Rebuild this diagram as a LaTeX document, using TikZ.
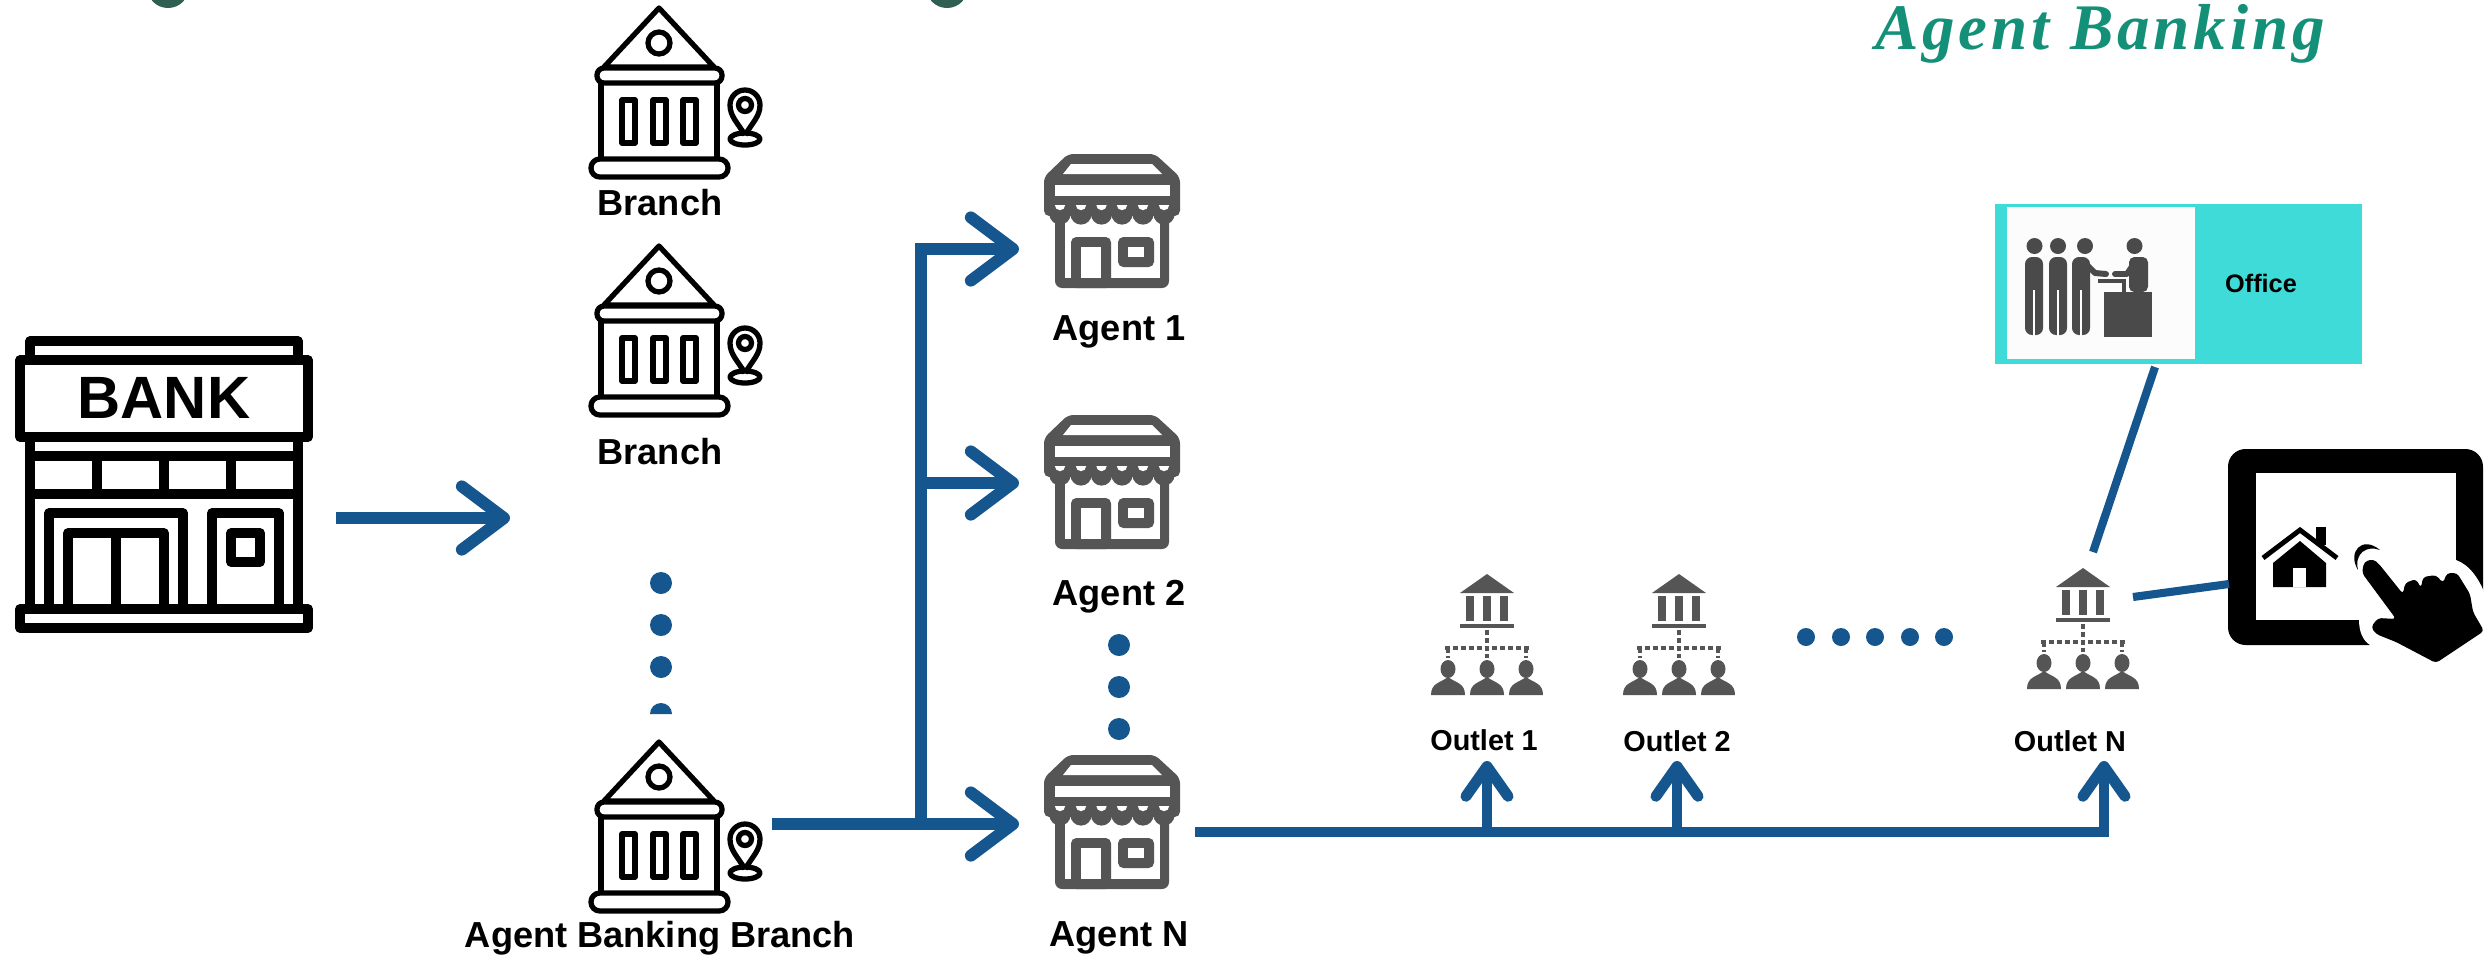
\documentclass[tikz,border=0pt]{standalone}
\usepackage{fontspec}
\setmainfont{Liberation Sans}
\newfontfamily\logofont[LetterSpace=6]{Liberation Serif}
\usetikzlibrary{arrows.meta}

\definecolor{flowblue}{HTML}{15568E}
\definecolor{icongray}{HTML}{555555}
\definecolor{peoplegray}{HTML}{4A4A4A}
\definecolor{officeteal}{HTML}{3FDBD8}
\definecolor{logogreen}{HTML}{149078}
\definecolor{stubgreen}{HTML}{2F5F52}

\tikzset{
  flow/.style={draw=flowblue, line width=6.8pt, -{Straight Barb[length=24pt, width=36pt, round]}},
  smallflow/.style={draw=flowblue, line width=6.2pt, -{Straight Barb[length=17pt, width=24pt, round]}},
  trunk/.style={draw=flowblue, line width=6.8pt},
  linkline/.style={draw=flowblue, line width=4.6pt},
  bigtext/.style={font=\bfseries\fontsize{20.6}{24}\selectfont, inner sep=0pt},
  outlettext/.style={font=\bfseries\fontsize{16.4}{20}\selectfont, inner sep=0pt},
  officetext/.style={font=\bfseries\fontsize{14.4}{18}\selectfont, inner sep=0pt},
  dotmark/.style={circle, fill=flowblue, inner sep=0pt, minimum size=0.44cm},
  smalldot/.style={circle, fill=flowblue, inner sep=0pt, minimum size=0.36cm},
  bankline/.style={draw=black, line width=5.4pt, line join=round},
  branchline/.style={draw=black, line width=3pt, line join=round},
  branchicon/.pic={
    \draw[branchline] (0,8) -- (-55,67) -- (55,67) -- cycle;
    \draw[branchline] (0,43) circle[radius=11];
    \draw[branchline, rounded corners=4pt] (-62,68) rectangle (63,83);
    \draw[branchline] (-58,83) -- (-58,159) (58,83) -- (58,159);
    \draw[branchline, rounded corners=5pt] (-68,159) rectangle (69,177);
    \foreach \wx in {-37,-6,24}
      \draw[branchline] (\wx,100) rectangle (\wx+13,143);
    \draw[branchline] (86,135) .. controls (78,122) and (71,116) .. (71,105)
      arc[start angle=180, end angle=360, radius=15]
      .. controls (101,116) and (94,122) .. (86,135);
    \draw[branchline] (86,105) circle[radius=6.5];
    \draw[branchline] (86,139) ellipse[x radius=15, y radius=6];
  },
  shopicon/.pic={
    \fill[icongray, rounded corners=4pt] (-57,55) rectangle (57,134);
    \fill[white] (-47,55) rectangle (48,124);
    \fill[icongray, rounded corners=3pt] (-44,0) -- (43,0) -- (68,23) -- (68,62) -- (-68,62) -- (-68,23) -- cycle;
    \foreach \sx in {-52,-31,-10.5,10,31,52} {
      \fill[icongray] (\sx,60) circle[radius=10.6];
      \fill[white] (\sx-5.2,51) -- (\sx+5.2,51) arc[start angle=0, end angle=180, radius=5.2] -- cycle;
    }
    \fill[white] (-41,10) -- (40,10) -- (50,20) -- (-49,20) -- cycle;
    \fill[white] (-57,31) rectangle (58,42);
    \fill[icongray, rounded corners=3pt] (-41,134) -- (-41,83) -- (-1,83) -- (-1,134) -- cycle;
    \fill[white] (-31,93) rectangle (-11,124);
    \fill[icongray, rounded corners=3pt] (6,83) rectangle (42,113);
    \fill[white] (16,93) rectangle (32,103);
  },
  outleticon/.pic={
    \fill[icongray] (0,0) -- (-27,19) -- (27,19) -- cycle;
    \foreach \cx in {-21,-4,13}
      \fill[icongray] (\cx,22) rectangle (\cx+8,47);
    \fill[icongray] (-27,50) rectangle (27,54);
    \draw[icongray, line width=2.8pt, dash pattern=on 2.8pt off 1.7pt] (0,56) -- (0,84) (-42,74) -- (42,74) (-39,74) -- (-39,84) (39,74) -- (39,84);
    \foreach \hx in {-39,0,39} {
      \fill[icongray] (\hx,95) ellipse[x radius=7.5, y radius=9];
      \fill[icongray] (\hx-17,121) .. controls (\hx-17,109) and (\hx-8,109) .. (\hx,103)
        .. controls (\hx+8,109) and (\hx+17,109) .. (\hx+17,121) -- cycle;
    }
  },
}

\begin{document}
\begin{tikzpicture}[x=0.02cm, y=-0.02cm]
    \useasboundingbox (0,0) rectangle (2486,958);

    % Title leftovers at the top edge
    \fill[stubgreen] (168,-13) circle[radius=21];
    \fill[stubgreen] (947,-13) circle[radius=21];
    \node[text=logogreen, anchor=base west, inner sep=0pt, font=\logofont\bfseries\itshape\fontsize{37}{42}\selectfont] (logo) at (1875,49) {Agent Banking};

    % Bank
    \draw[bankline] (30,360) -- (30,341) -- (298,341) -- (298,360);
    \draw[bankline] (20,360) rectangle (308,437);
    \draw[bankline] (30,437) -- (30,609) (298,437) -- (298,609);
    \draw[bankline] (30,456) -- (298,456) (30,494) -- (298,494);
    \draw[bankline] (97,456) -- (97,494) (164,456) -- (164,494) (231,456) -- (231,494);
    \draw[bankline] (20,609) rectangle (308,628);
    \draw[bankline] (49,609) -- (49,513) -- (183,513) -- (183,609);
    \draw[bankline] (68,609) -- (68,533) -- (164,533) -- (164,609) (116,533) -- (116,609);
    \draw[bankline] (212,609) -- (212,513) -- (279,513) -- (279,609);
    \draw[bankline] (231,533) rectangle (260,562);
    \node[font=\bfseries\fontsize{34}{40}\selectfont, inner sep=0pt] (banksign) at (164,398) {BANK};

    % Branches
    \pic at (659,0) {branchicon};
    \pic at (659,238) {branchicon};
    \pic at (659,734) {branchicon};
    \node[bigtext] (branch1) at (660,203) {Branch};
    \node[bigtext] (branch2) at (660,452) {Branch};
    \node[bigtext] (branchN) at (660,938) {Agent Banking Branch};
    \foreach \i/\dy in {1/583, 2/625, 3/667}
      \node[dotmark] (branchdot\i) at (661,\dy) {};
    \fill[flowblue] (650,714) arc[start angle=180, end angle=360, radius=11] -- cycle;

    % Agents
    \pic at (1112,154) {shopicon};
    \pic at (1112,415) {shopicon};
    \pic at (1112,755) {shopicon};
    \node[bigtext] (agent1) at (1119,332) {Agent 1};
    \node[bigtext] (agent2) at (1119,597) {Agent 2};
    \node[bigtext] (agentN) at (1119,938) {Agent N};
    \foreach \i/\dy in {1/645, 2/687, 3/729}
      \node[dotmark] (agentdot\i) at (1119,\dy) {};

    % Outlets
    \pic at (1487,574) {outleticon};
    \pic at (1679,574) {outleticon};
    \pic at (2083,568) {outleticon};
    \node[outlettext] (outlet1) at (1484,740) {Outlet 1};
    \node[outlettext] (outlet2) at (1677,741) {Outlet 2};
    \node[outlettext] (outletN) at (2070,741) {Outlet N};
    \foreach \i/\dx in {1/1806, 2/1841, 3/1875, 4/1910, 5/1944}
      \node[smalldot] (outletdot\i) at (\dx,637) {};

    % Office card
    \fill[officeteal] (1995,204) rectangle (2362,364);
    \fill[white!99!black] (2007,207) rectangle (2195,359);
    \node[officetext] (office) at (2261,283) {Office};
    \foreach \hx in {2034.5,2058,2085,2134.5}
      \fill[peoplegray] (\hx,246) circle[radius=8];
    \foreach \hx in {2034,2058}
      \fill[peoplegray, rounded corners=4pt] (\hx-9,257) rectangle (\hx+9,335);
    \fill[peoplegray, rounded corners=4pt] (2072,257) rectangle (2090,335);
    \foreach \hx in {2034,2058,2081}
      \draw[white, line width=1.4pt] (\hx,290) -- (\hx,336);
    \draw[peoplegray, line width=3.4pt, line cap=round, line join=round] (2084,262) -- (2095,273) -- (2106,274);
    \fill[peoplegray, rounded corners=3pt] (2129,257) rectangle (2148,292);
    \draw[peoplegray, line width=3.4pt, line cap=round, line join=round] (2135,262) -- (2127,274) -- (2115,274);
    \fill[peoplegray] (2104,292) rectangle (2152,337);
    \draw[peoplegray, line width=2pt] (2098,281) -- (2124,281) -- (2124,292);

    % Tablet
    \fill[black, rounded corners=10pt] (2228,449) rectangle (2483,645);
    \fill[white] (2256,473) rectangle (2456,620);
    \fill[white] (2456,560) .. controls (2470,565) and (2480,580) .. (2486,597) -- (2486,671) -- (2370,671) -- (2370,645) .. controls (2362,640) and (2359,630) .. (2359,620) -- cycle;
    \draw[black, line width=2.8pt] (2263,558) -- (2300,530) -- (2337,558);
    \fill[black] (2316,527) rectangle (2326,545);
    \fill[black] (2273,563) -- (2300,541) -- (2326,563) -- (2326,587) -- (2273,587) -- cycle;
    \fill[white] (2293,568) rectangle (2306,587);
    \fill[black] (2358,570) .. controls (2347,552) and (2362,535) .. (2380,550) .. controls (2367,545) and (2354,553) .. (2358,570) -- cycle;
    \fill[black, rounded corners=2pt] (2362,573) -- (2364,562) -- (2373,559) -- (2379,564) -- (2403,594) -- (2405,583) -- (2416,579) -- (2421,588) -- (2423,577) -- (2436,575) -- (2443,583) -- (2447,573) -- (2457,573) -- (2470,594) -- (2473,612) -- (2484,631) -- (2436,663) -- (2396,642) -- (2376,634) -- (2371,627) -- (2378,618) -- (2396,619) -- cycle;

    % Connector ends
    \coordinate (bankout) at (336,518);
    \coordinate (branchin) at (510,518);
    \coordinate (branchout) at (772,824);
    \coordinate (trunkfoot) at (921,824);
    \coordinate (trunktop) at (921,249);
    \coordinate (trunkmid) at (921,483);
    \coordinate (agent1in) at (1019,249);
    \coordinate (agent2in) at (1019,483);
    \coordinate (agentNin) at (1019,824);
    \coordinate (agentNout) at (1195,832);
    \coordinate (stem1) at (1487,832);
    \coordinate (stem2) at (1677,832);
    \coordinate (stemN) at (2104,832);
    \coordinate (outlet1in) at (1487,761);
    \coordinate (outlet2in) at (1677,761);
    \coordinate (outletNin) at (2104,761);
    \coordinate (officeout) at (2155,367);
    \coordinate (officein) at (2093,552);
    \coordinate (tabletout) at (2133,597);
    \coordinate (tabletin) at (2229,584);

    % Arrows
    \draw[flow] (bankout) -- (branchin);
    \draw[flow] (branchout) -- (agentNin);
    \draw[trunk, -{Straight Barb[length=24pt, width=36pt, round]}] (trunkfoot) -- (trunktop) -- (agent1in);
    \draw[flow] (trunkmid) -- (agent2in);
    \draw[smallflow] (agentNout) -- (stemN) -- (outletNin);
    \draw[smallflow] (stem1) -- (outlet1in);
    \draw[smallflow] (stem2) -- (outlet2in);
    \draw[linkline] (officeout) -- (officein);
    \draw[linkline] (tabletout) -- (tabletin);
\end{tikzpicture}
\end{document}
